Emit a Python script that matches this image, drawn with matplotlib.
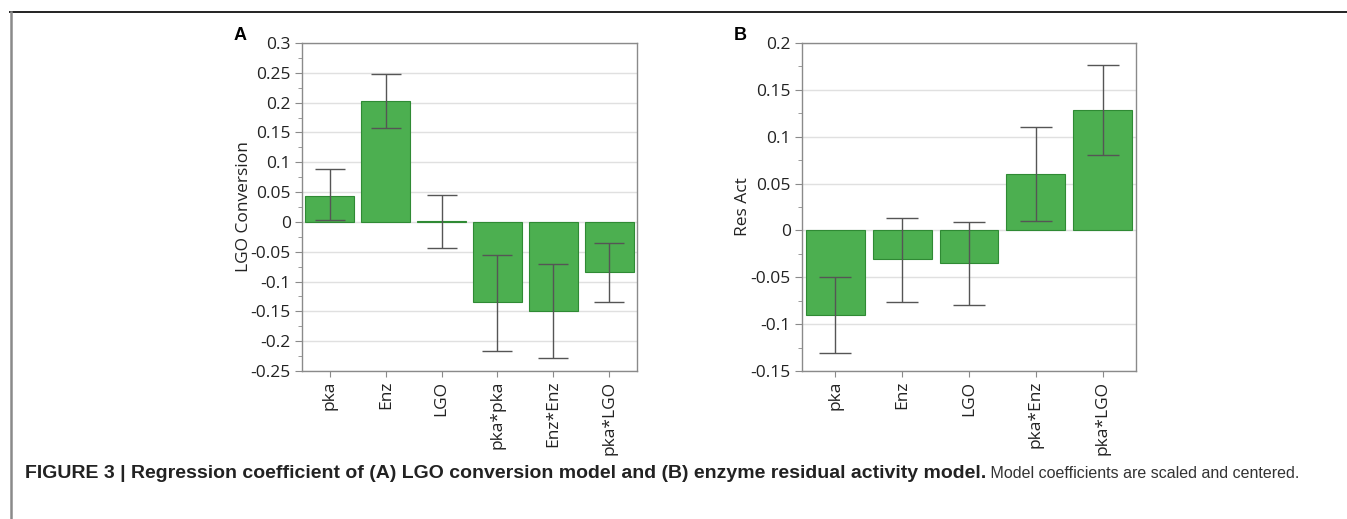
import numpy as np
import matplotlib
matplotlib.use('Agg')
import matplotlib.pyplot as plt
from matplotlib.ticker import MultipleLocator, FuncFormatter

plt.rcParams['font.family'] = ['Open Sans', 'DejaVu Sans']

# panel A: LGO conversion model
terms_a = ['pka', 'Enz', 'LGO', 'pka*pka', 'Enz*Enz', 'pka*LGO']
coef_a = [0.044, 0.203, 0.001, -0.135, -0.150, -0.084]
upper_a = [0.088, 0.248, 0.045, -0.055, -0.070, -0.035]
lower_a = [0.003, 0.158, -0.043, -0.217, -0.229, -0.134]

# panel B: enzyme residual activity model
terms_b = ['pka', 'Enz', 'LGO', 'pka*Enz', 'pka*LGO']
coef_b = [-0.090, -0.031, -0.035, 0.060, 0.128]
upper_b = [-0.050, 0.013, 0.009, 0.110, 0.176]
lower_b = [-0.131, -0.076, -0.080, 0.010, 0.080]

W, H = 1347, 519
fig = plt.figure(figsize=(W / 100, H / 100), dpi=100)

bar_fc = '#4caf50'
bar_ec = '#2f8a34'
spine_c = '#8a8a8a'
fs = 12.5


def fmt(v, pos):
    s = ('%.2f' % v).rstrip('0').rstrip('.')
    if s in ('-0', '0'):
        s = '0'
    return s


def panel(rect, terms, coef, upper, lower, ylim, ylabel, label_x, capsize):
    ax = fig.add_axes(rect)
    x = np.arange(len(terms))
    coef = np.array(coef)
    yerr = [coef - np.array(lower), np.array(upper) - coef]
    ax.bar(x, coef, width=0.88, color=bar_fc, edgecolor=bar_ec, linewidth=0.8, zorder=2)
    ax.errorbar(x, coef, yerr=yerr, fmt='none', ecolor='#555555', elinewidth=1.0,
                capsize=capsize, capthick=1.0, zorder=3)
    ax.set_xlim(-0.5, len(terms) - 0.5)
    ax.set_ylim(*ylim)
    ax.yaxis.set_major_locator(MultipleLocator(0.05))
    ax.yaxis.set_minor_locator(MultipleLocator(0.025))
    ax.yaxis.set_major_formatter(FuncFormatter(fmt))
    ax.grid(axis='y', which='major', color='#e0e0e0', linewidth=1.0, zorder=0)
    ax.set_axisbelow(True)
    ax.set_xticks(x)
    ax.set_xticklabels(terms, rotation=90, fontsize=fs, color='#222222')
    ax.tick_params(axis='y', which='major', length=5, color=spine_c, labelsize=fs,
                   labelcolor='#222222', pad=3)
    ax.tick_params(axis='y', which='minor', length=3, color=spine_c)
    ax.tick_params(axis='x', length=4, color=spine_c, pad=3)
    for sp in ax.spines.values():
        sp.set_color(spine_c)
        sp.set_linewidth(1.0)
    ax.set_ylabel(ylabel, fontsize=fs, color='#222222')
    ax.yaxis.set_label_coords(label_x, 0.5)
    return ax


ax_a = panel([302 / W, 1 - 371 / H, 335 / W, 328 / H], terms_a, coef_a, upper_a, lower_a,
             (-0.25, 0.3), 'LGO Conversion', -0.15, 10.5)
ax_b = panel([802 / W, 1 - 371 / H, 334 / W, 328 / H], terms_b, coef_b, upper_b, lower_b,
             (-0.15, 0.2), 'Res Act', -0.153, 11.5)

fig.text(240 / W, 1 - 36 / H, 'A', fontsize=13, fontweight='bold', family='Liberation Sans',
         ha='center', va='center')
fig.text(740 / W, 1 - 36 / H, 'B', fontsize=13, fontweight='bold', family='Liberation Sans',
         ha='center', va='center')

# frame lines
fig.add_artist(plt.Line2D([10 / W, 1], [1 - 11.5 / H, 1 - 11.5 / H], color='#222222', lw=1.4))
fig.add_artist(plt.Line2D([10.5 / W, 10.5 / W], [0, 1 - 11.5 / H], color='#8a8a8a', lw=1.8))

# caption
bold = 'FIGURE 3 | Regression coefficient of (A) LGO conversion model and (B) enzyme residual activity model.'
rest = ' Model coefficients are scaled and centered.'
t1 = fig.text(25 / W, 1 - 474 / H, bold, fontsize=14, fontweight='bold',
              family='Liberation Sans', va='center', color='#222222')
fig.canvas.draw()
bb = t1.get_window_extent(fig.canvas.get_renderer())
fig.text(bb.x1 / W, 1 - 474 / H, rest, fontsize=11.5, family='Liberation Sans',
         va='center', color='#333333')

fig.savefig('out.png', dpi=100)
